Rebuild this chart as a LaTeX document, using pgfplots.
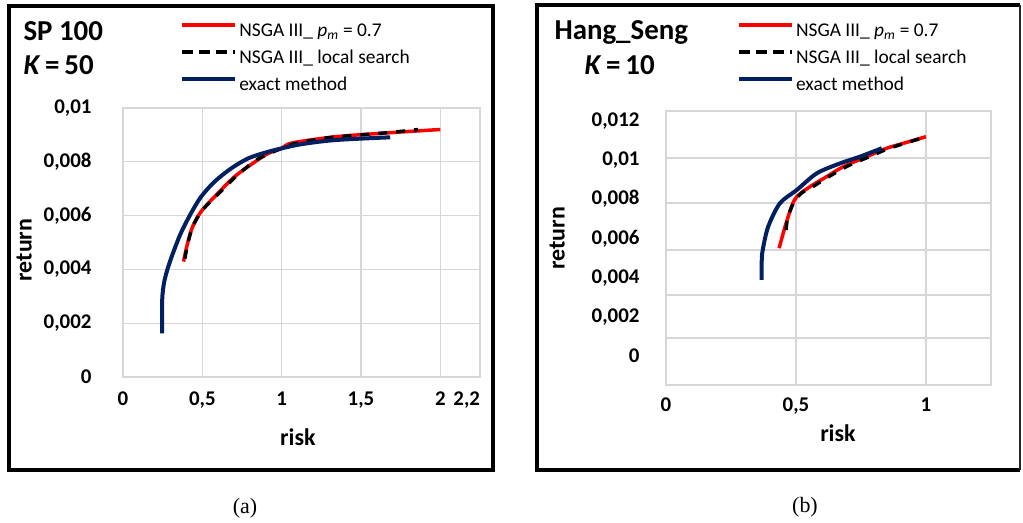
\documentclass[border=0pt]{standalone}
\usepackage{pgfplots}
\pgfplotsset{compat=1.18}
\usepackage{fontspec}
\setmainfont{Carlito}
\newfontfamily\seriffont{Liberation Serif}
\definecolor{exblue}{RGB}{0,32,96}
\definecolor{gridgray}{RGB}{215,215,215}
\pgfplotsset{
  mystyle/.style={
    scale only axis,
    axis line style={gridgray, line width=1.2bp},
    grid style={gridgray, line width=1.2bp},
    major tick length=0pt,
    scaled y ticks=false, scaled x ticks=false,
    tick label style={font=\fontsize{21}{21}\selectfont\bfseries},
    label style={font=\fontsize{24}{24}\selectfont\bfseries},
    /pgf/number format/assume math mode=true,
    xmajorgrids, ymajorgrids,
    clip=false,
    legend cell align=left,
    legend style={draw=none, fill=none, inner sep=0pt,
      font=\fontsize{19.5}{20}\selectfont,
      nodes={text height=14bp, text depth=4bp, inner sep=2bp},
      row sep=5bp},
    legend image code/.code={\draw[##1] (0bp,6bp) -- (53bp,6bp);},
  },
  redl/.style={color=red, line width=3.5bp, smooth, tension=0.5},
  blkl/.style={color=black, line width=3.4bp, dash pattern=on 9bp off 9bp, smooth, tension=0.5,
    legend image post style={dash pattern=on 11bp off 6bp, line width=4bp}},
  blul/.style={color=exblue, line width=4bp, smooth, tension=0.5},
}
\begin{document}
\begin{tikzpicture}[x=1bp,y=1bp]
\path[fill=white] (0,0) rectangle (1023,523);
% frames
\draw[line width=4bp] (9,53) rectangle (493,517);
\draw[line width=4bp] (1020,53) -- (537,53) -- (537,518) -- (1020,518);
\draw[line width=2bp, black!85] (1020,53) -- (1020,518);
% titles
\node[anchor=west, font=\fontsize{29}{29}\selectfont\bfseries] at (20,492) {SP 100};
\node[anchor=west, font=\fontsize{29}{29}\selectfont\bfseries] at (20,458) {\textit{K}\,=\,50};
\node[anchor=west, font=\fontsize{29}{29}\selectfont\bfseries] at (551,491) {Hang\_Seng};
\node[anchor=west, font=\fontsize{29}{29}\selectfont\bfseries] at (581,458) {\textit{K}\,=\,10};
% captions
\node[font=\seriffont\fontsize{22}{22}\selectfont] at (245,15) {(a)};
\node[font=\seriffont\fontsize{22}{22}\selectfont] at (805,16) {(b)};

\begin{axis}[mystyle,
  at={(123bp,146bp)}, anchor=south west,
  width=357bp, height=269bp,
  xmin=0, xmax=2.25, ymin=0, ymax=0.01,
  xtick={0,0.5,1,1.5,2,2.25},
  xticklabels={0,{0,5},1,{1,5},2,{\makebox[0pt][r]{2,2}}},
  ytick={0,0.002,0.004,0.006,0.008,0.01},
  yticklabels={0,{0,002},{0,004},{0,006},{0,008},{0,01}},
  xticklabel style={yshift=-11bp},
  yticklabel style={xshift=-28bp},
  xlabel={risk}, ylabel={return},
  xlabel style={at={(axis description cs:0.49,-0.223)}, anchor=center},
  ylabel style={at={(axis description cs:-0.277,0.472)}, anchor=center},
  legend style={at={(axis description cs:0.16,1.327)}, anchor=north west},
]
\addplot[redl] coordinates {
(0.381,0.00429) (0.407,0.00497) (0.439,0.00559) (0.492,0.00615) (0.577,0.0067)
(0.704,0.00745) (0.832,0.008) (0.918,0.00832) (1.0,0.0085) (1.066,0.0087)
(1.34,0.00893) (1.68,0.00908) (2.0,0.0092)};
\addlegendentry{NSGA III\_ \textit{p}\textsubscript{\textit{m}} = 0.7}
\addplot[blkl] coordinates {
(0.39,0.0044) (0.41,0.0050) (0.44,0.0056) (0.5,0.0062) (0.6,0.0068) (0.72,0.0075)
(0.85,0.0081) (1.0,0.0085) (1.1,0.0087) (1.3,0.0089) (1.5,0.0090) (1.7,0.0091) (1.86,0.0092)};
\addlegendentry{NSGA III\_ local search}
\addplot[blul] coordinates {
(0.247,0.00162) (0.247,0.00286) (0.258,0.00348) (0.279,0.00398) (0.311,0.00454)
(0.364,0.00534) (0.428,0.00608) (0.492,0.0067) (0.577,0.00726) (0.683,0.00776)
(0.79,0.00813) (0.896,0.00834) (1.0,0.0085) (1.13,0.00866) (1.343,0.00881) (1.684,0.00891)};
\addlegendentry{exact method}
\end{axis}

\begin{axis}[mystyle,
  at={(666bp,138bp)}, anchor=south west,
  width=325bp, height=274bp,
  xmin=0, xmax=1.25, ymin=-0.00148, ymax=0.0125,
  xtick={0,0.5,1},
  xticklabels={0,{0,5},1},
  ymajorgrids=false,
  ytick={0,0.002,0.004,0.006,0.008,0.01,0.012},
  yticklabels={0,{0,002},{0,004},{0,006},{0,008},{0,01},{0,012}},
  extra y ticks={0.00092,0.00311,0.00541,0.00781,0.0101},
  extra y tick labels={},
  extra y tick style={grid=major},
  xticklabel style={yshift=-9.5bp},
  yticklabel style={xshift=-23bp},
  xlabel={risk}, ylabel={return},
  xlabel style={at={(axis description cs:0.529,-0.175)}, anchor=center},
  ylabel style={at={(axis description cs:-0.335,0.536)}, anchor=center},
  legend style={at={(axis description cs:0.218,1.332)}, anchor=north west},
]
\addplot[redl] coordinates {
(0.435,0.0055) (0.458,0.0066) (0.483,0.00762) (0.503,0.00813) (0.554,0.00864)
(0.618,0.00915) (0.682,0.00966) (0.772,0.01017) (0.849,0.0106) (0.926,0.0109) (1.0,0.01119)};
\addlegendentry{NSGA III\_ \textit{p}\textsubscript{\textit{m}} = 0.7}
\addplot[blkl] coordinates {
(0.462,0.00643) (0.468,0.00704) (0.49,0.0078) (0.52,0.0083) (0.56,0.0086) (0.62,0.0091)
(0.70,0.0097) (0.77,0.0101) (0.85,0.01055) (0.93,0.0109) (0.98,0.0111)};
\addlegendentry{NSGA III\_ local search}
\addplot[blul] coordinates {
(0.368,0.00388) (0.368,0.00480) (0.372,0.00541) (0.393,0.0066) (0.438,0.00779) (0.503,0.00847)
(0.58,0.00932) (0.67,0.00983) (0.746,0.01017) (0.83,0.0106)};
\addlegendentry{exact method}
\end{axis}
\end{tikzpicture}
\end{document}
